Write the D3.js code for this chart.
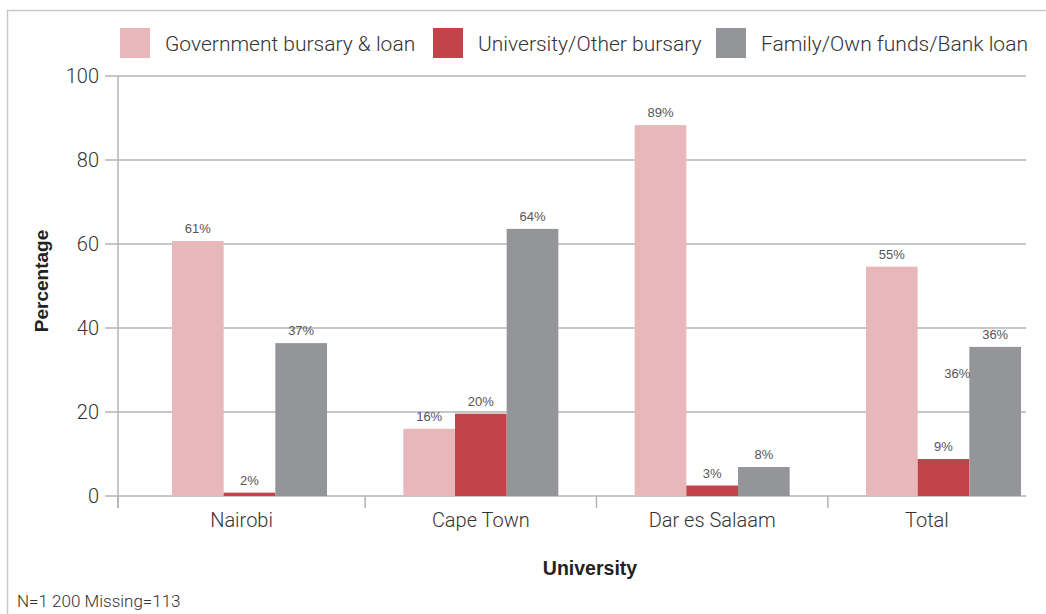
<!DOCTYPE html>
<html>
<head>
<meta charset="utf-8">
<script src="https://cdn.jsdelivr.net/npm/d3@7"></script>
<style>
  body { margin: 0; background: #fff; }
  svg { display: block; }
  .lite { font-family: Roboto, "Liberation Sans", sans-serif; font-weight: 300; fill: #333; }
  .bold { font-family: "Liberation Sans", Arial, sans-serif; font-weight: bold; fill: #222; }
  .val { font-family: "Liberation Sans", Arial, sans-serif; fill: #555; font-size: 13px; }
</style>
</head>
<body>
<svg width="1046" height="614"></svg>
<script>
var universities = ["Nairobi", "Cape Town", "Dar es Salaam", "Total"];
var seriesNames = ["Government bursary & loan", "University/Other bursary", "Family/Own funds/Bank loan"];
var seriesColors = ["#e8b7ba", "#c4424a", "#949598"];
// bar heights as drawn, and the labels printed on them
var govValues = [60.7, 16.0, 88.3, 54.6];
var uniValues = [0.8, 19.6, 2.5, 8.8];
var famValues = [36.4, 63.6, 6.9, 35.5];
var govLabels = ["61%", "16%", "89%", "55%"];
var uniLabels = ["2%", "20%", "3%", "9%"];
var famLabels = ["37%", "64%", "8%", "36%"];
var yTicks = [0, 20, 40, 60, 80, 100];

var svg = d3.select("svg"),
	width = +svg.attr("width"),
	height = +svg.attr("height");

var values = [govValues, uniValues, famValues];
var labels = [govLabels, uniLabels, famLabels];

// frame
svg.append("rect")
	.attr("x", 7.5).attr("y", 10.5)
	.attr("width", 1100).attr("height", 700)
	.attr("fill", "none").attr("stroke", "#c8c8c8").attr("stroke-width", 1.5);

var x0 = d3.scaleBand().domain(universities).range([172, 1021]).paddingInner(0.33).paddingOuter(0);
var x1 = d3.scaleBand().domain(d3.range(3)).range([0, x0.bandwidth()]);
var y = d3.scaleLinear().domain([0, 100]).range([496, 76]);

var axisLeft = 118, gridRight = 1026;

// gridlines + y ticks
var grid = svg.append("g");
grid.selectAll("line")
	.data(yTicks)
	.enter().append("line")
		.attr("x1", 105).attr("x2", gridRight)
		.attr("y1", function(d) { return y(d); })
		.attr("y2", function(d) { return y(d); })
		.attr("stroke", "#b4b4b4").attr("stroke-width", 1.5);

grid.selectAll("text")
	.data(yTicks)
	.enter().append("text")
		.attr("class", "lite")
		.attr("x", 99)
		.attr("y", function(d) { return y(d) + 7; })
		.attr("text-anchor", "end")
		.attr("font-size", 20)
		.text(function(d) { return d; });

// y axis line
svg.append("line")
	.attr("x1", axisLeft).attr("x2", axisLeft)
	.attr("y1", y(100)).attr("y2", 508)
	.attr("stroke", "#b4b4b4").attr("stroke-width", 1.5);

// bars
var groups = svg.append("g").selectAll("g")
	.data(universities)
	.enter().append("g")
		.attr("transform", function(d) { return "translate(" + x0(d) + ",0)"; });

function cells(d, i) {
	return values.map(function(v, s) { return {s: s, v: v[i], l: labels[s][i]}; });
}

groups.selectAll("rect")
	.data(cells)
	.enter().append("rect")
		.attr("x", function(d) { return x1(d.s); })
		.attr("width", x1.bandwidth())
		.attr("y", function(d) { return y(d.v); })
		.attr("height", function(d) { return y(0) - y(d.v); })
		.attr("fill", function(d) { return seriesColors[d.s]; });

groups.selectAll("text")
	.data(cells)
	.enter().append("text")
		.attr("class", "val")
		.attr("x", function(d) { return x1(d.s) + x1.bandwidth() / 2; })
		.attr("y", function(d) { return y(d.v) - 8; })
		.attr("text-anchor", "middle")
		.text(function(d) { return d.l; });

// stray duplicate label in the Total group
svg.append("text")
	.attr("class", "val")
	.attr("x", x0("Total") + x1(2) + 1)
	.attr("y", y(28))
	.attr("text-anchor", "end")
	.text(famLabels[3]);

// x axis separators and category labels
var seps = [axisLeft];
for (var i = 0; i < universities.length - 1; i++) {
	seps.push((x0(universities[i]) + x0.bandwidth() + x0(universities[i + 1])) / 2);
}
svg.append("g").selectAll("line")
	.data(seps)
	.enter().append("line")
		.attr("x1", function(d) { return d; }).attr("x2", function(d) { return d; })
		.attr("y1", y(0)).attr("y2", 508)
		.attr("stroke", "#b4b4b4").attr("stroke-width", 1.5);

svg.append("g").selectAll("text")
	.data(universities)
	.enter().append("text")
		.attr("class", "lite")
		.attr("x", function(d, i) { return (seps[i] + (i < seps.length - 1 ? seps[i + 1] : gridRight)) / 2; })
		.attr("y", 527)
		.attr("text-anchor", "middle")
		.attr("font-size", 20)
		.text(function(d) { return d; });

// axis titles
svg.append("text")
	.attr("class", "bold")
	.attr("transform", "translate(48,281) rotate(-90)")
	.attr("text-anchor", "middle")
	.attr("font-size", 19)
	.text("Percentage");

svg.append("text")
	.attr("class", "bold")
	.attr("x", 590).attr("y", 575)
	.attr("text-anchor", "middle")
	.attr("font-size", 19.5)
	.text("University");

svg.append("text")
	.attr("class", "lite")
	.attr("x", 17).attr("y", 607)
	.attr("font-size", 17)
	.text("N=1 200 Missing=113");

// legend
var legendX = [120, 433, 716];
var legend = svg.append("g").selectAll("g")
	.data(seriesNames)
	.enter().append("g")
		.attr("transform", function(d, i) { return "translate(" + legendX[i] + ",28)"; });
legend.append("rect")
	.attr("width", 30).attr("height", 30)
	.attr("fill", function(d, i) { return seriesColors[i]; });
legend.append("text")
	.attr("class", "lite")
	.attr("x", 45).attr("y", 23)
	.attr("font-size", 21)
	.text(function(d) { return d; });
</script>
</body>
</html>
